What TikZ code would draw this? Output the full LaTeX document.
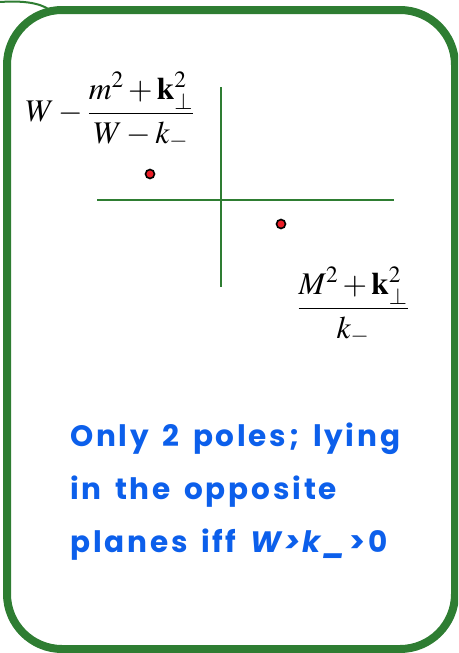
\documentclass[tikz,border=0pt]{standalone}
\usepackage{mathptmx}
\usepackage{fontspec}
\newfontfamily\notefont[LetterSpace=9.5, WordSpace=1.5]{Poppins}
\usepackage{amsmath}

\definecolor{boxgreen}{RGB}{46,125,50}
\definecolor{noteblue}{RGB}{12,95,235}
\definecolor{polered}{RGB}{235,30,40}

\tikzset{
    pole/.style={circle, draw=black, fill=polered, line width=1.6pt, minimum size=9pt, inner sep=0pt},
    axis/.style={boxgreen, line width=1.8pt},
    formula/.style={inner sep=0pt, font=\fontsize{31.5}{34}\selectfont}
}

\begin{document}
\begin{tikzpicture}[x=1pt, y=-1pt]
        \useasboundingbox (0,0) rectangle (458,653);
        \clip (0,0) rectangle (458,653);

        % Corner of the neighbouring box
        \draw[boxgreen, line width=2pt] (0,2) .. controls (30,0) and (45,5) .. (52,12);

        % Outer frame
        \draw[boxgreen, line width=8pt, rounded corners=55pt] (7,10) rectangle (455,649);

        % Axes of the complex plane
        \coordinate (top) at (221,87);
        \coordinate (bottom) at (221,287);
        \coordinate (left) at (97,200);
        \coordinate (right) at (394,200);
        \draw[axis] (top) -- (bottom);
        \draw[axis] (left) -- (right);

        % The two poles
        \node[pole] (upper pole) at (150,174) {};
        \node[pole] (lower pole) at (281,224) {};

        % Pole positions
        \node[formula] (upper label) at (110,111)
            {$W-\dfrac{m^2+\mathbf{k}_\perp^2}{W-k_-}$};
        \node[formula] (lower label) at (353,306)
            {$\dfrac{M^2+\mathbf{k}_\perp^2}{k_-}$};

        % Remark
        \node[anchor=base west, align=left, inner sep=0pt, text=noteblue,
              font=\notefont\bfseries\fontsize{29.5}{53}\selectfont] (remark) at (70,552)
            {Only 2 poles; lying\\in the opposite\\planes iff \textit{W>k\_}>0};
    \end{tikzpicture}
\end{document}
